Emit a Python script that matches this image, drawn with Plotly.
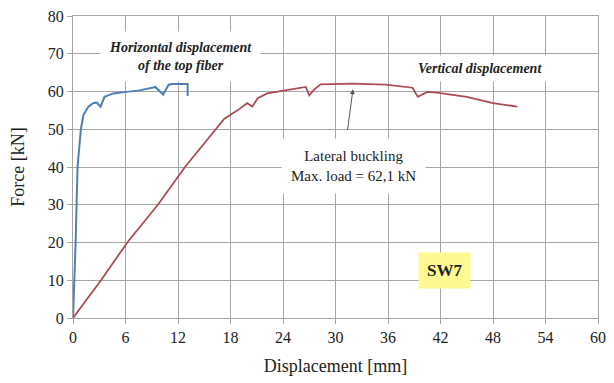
import plotly.graph_objects as go

# Force-displacement response of specimen SW7
horiz_disp = [0.0, 0.19, 0.3, 0.41, 0.52, 0.9, 1.2, 1.76, 2.3, 2.7, 3.15, 3.6, 4.6,
              6.1, 7.6, 9.06, 9.4, 10.3, 10.93, 11.3, 13.1, 13.1]
horiz_force = [0.0, 10.0, 20.0, 30.0, 40.0, 50.0, 53.8, 56.0, 56.9, 57.1, 56.0, 58.6,
               59.5, 59.9, 60.3, 61.0, 61.2, 59.2, 61.8, 62.0, 62.0, 58.8]

vert_disp = [0.0, 3.2, 6.2, 9.7, 12.8, 16.4, 17.3, 18.8, 19.9, 20.5, 21.1, 22.2,
             24.0, 25.5, 26.6, 27.0, 27.6, 28.3, 31.9, 35.7, 38.8, 39.4, 40.5,
             41.6, 45.0, 48.0, 50.8]
vert_force = [0.0, 10.0, 20.0, 30.0, 40.0, 50.0, 52.8, 55.0, 56.9, 56.0, 58.2, 59.5,
              60.2, 60.7, 61.2, 59.0, 60.6, 61.9, 62.1, 61.8, 61.0, 58.6, 59.9,
              59.7, 58.6, 56.9, 56.0]

x_ticks = [0, 6, 12, 18, 24, 30, 36, 42, 48, 54, 60]
y_ticks = [0, 10, 20, 30, 40, 50, 60, 70, 80]

SERIF = "Liberation Serif"
GRID = "#a6a6a6"

fig = go.Figure()
fig.add_trace(go.Scatter(x=horiz_disp, y=horiz_force, mode="lines",
                         line=dict(color="#4f7fb3", width=2), showlegend=False))
fig.add_trace(go.Scatter(x=vert_disp, y=vert_force, mode="lines",
                         line=dict(color="#ad4b55", width=1.8), showlegend=False))

axis_common = dict(showgrid=True, gridcolor=GRID, gridwidth=1.3,
                   showline=True, linecolor=GRID, linewidth=1.3, mirror=True,
                   ticks="outside", ticklen=5, tickcolor=GRID, tickwidth=1.3,
                   zeroline=False,
                   tickfont=dict(family=SERIF, size=16, color="#222222"))

fig.update_xaxes(range=[0, 60], tickvals=x_ticks,
                 title=dict(text="Displacement [mm]", standoff=14,
                            font=dict(family=SERIF, size=18, color="#222222")),
                 **axis_common)
fig.update_yaxes(range=[0, 80], tickvals=y_ticks,
                 title=dict(text="Force [kN]", standoff=18,
                            font=dict(family=SERIF, size=18, color="#222222")),
                 **axis_common)

label_font = dict(family=SERIF, size=14, color="#222222")

fig.add_annotation(x=12.3, y=69.4, xref="x", yref="y", showarrow=False,
                   text="<b><i>Horizontal displacement<br>of the top fiber</i></b>",
                   font=label_font, bgcolor="white", borderpad=8, align="center")
fig.add_annotation(x=46.5, y=66.0, xref="x", yref="y", showarrow=False,
                   text="<b><i>Vertical displacement</i></b>",
                   font=label_font, bgcolor="white", borderpad=5)

# arrow pointing to the peak of the vertical curve
fig.add_annotation(x=32.0, y=60.6, ax=31.35, ay=49.4, xref="x", yref="y",
                   axref="x", ayref="y", text="", showarrow=True,
                   arrowhead=2, arrowsize=1, arrowwidth=1, arrowcolor="#555555")
fig.add_annotation(x=32.0, y=40.2, xref="x", yref="y", showarrow=False,
                   text="Lateral buckling<br>Max. load = 62,1 kN",
                   font=dict(family=SERIF, size=15, color="#222222"),
                   bgcolor="white", borderpad=9, align="center")

fig.add_annotation(x=42.5, y=12.7, xref="x", yref="y", showarrow=False,
                   text="<b>SW7</b>",
                   font=dict(family=SERIF, size=17, color="#222222"),
                   bgcolor="#fbf98f", borderpad=8)

fig.update_layout(width=614, height=383,
                  margin=dict(l=73, r=8, t=13, b=65),
                  paper_bgcolor="white", plot_bgcolor="white")

fig.write_html("out.html")
